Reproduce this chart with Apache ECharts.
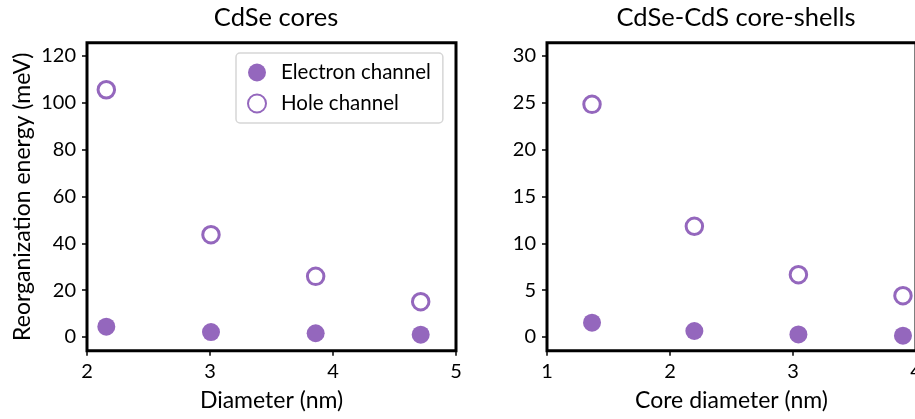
<!DOCTYPE html>
<html><head><meta charset="utf-8">
<script src="https://cdn.jsdelivr.net/npm/echarts@6/dist/echarts.min.js"></script>
<style>html,body{margin:0;padding:0;background:#fff}#c{width:915px;height:419px}</style>
</head><body><div id="c"></div>
<script>
const coresDiameter = [2.157, 3.008, 3.859, 4.713];
const coresElectron = [4.4, 2.1, 1.6, 1.0];
const coresHole = [105.6, 43.7, 25.9, 15.1];
const shellDiameter = [1.366, 2.198, 3.044, 3.894];
const shellElectron = [1.53, 0.64, 0.28, 0.14];
const shellHole = [24.84, 11.82, 6.65, 4.41];
const coresTicks = [0, 20, 40, 60, 80, 100, 120];
const shellTicks = [0, 5, 10, 15, 20, 25, 30];
const titles = ['CdSe cores', 'CdSe-CdS core-shells'];
const xNames = ['Diameter (nm)', 'Core diameter (nm)'];
const yName = 'Reorganization energy (meV)';
const seriesNames = ['Electron channel', 'Hole channel'];

const purple = '#9467bd';
const FONT = 'Lato';
const chart = echarts.init(document.getElementById('c'), null, {renderer: 'canvas'});
const pair = (xs, ys) => xs.map((x, i) => [x, ys[i]]);
const tick = {show: true, length: 5, lineStyle: {color: '#000', width: 1.5}};
const label = {color: '#000', fontFamily: FONT, fontSize: 20, margin: 11};
const nameStyle = {fontFamily: FONT, fontSize: 23, color: '#000'};
const base = {type: 'value', axisLine: {show: false, onZero: false}, splitLine: {show: false}};
const filled = {symbol: 'circle', symbolSize: 18, itemStyle: {color: purple, opacity: 1}};
const hollow = {symbol: 'circle', symbolSize: 16.5, itemStyle: {color: '#fff', borderColor: purple, borderWidth: 3, opacity: 1}};
const titleStyle = {fontFamily: FONT, fontSize: 25.5, fontWeight: 'normal', color: '#000'};

chart.setOption({
  animation: false,
  title: [
    {text: titles[0], left: 271, top: 0, textAlign: 'center', textStyle: titleStyle},
    {text: titles[1], left: 731, top: 0, textAlign: 'center', textStyle: titleStyle}
  ],
  grid: [
    {left: 87, top: 42.7, width: 369, height: 308, outerBoundsMode: 'none', containLabel: false, show: true, borderColor: '#000', borderWidth: 3, backgroundColor: 'transparent'},
    {left: 547, top: 42.7, width: 369, height: 308, outerBoundsMode: 'none', containLabel: false, show: true, borderColor: '#000', borderWidth: 3, backgroundColor: 'transparent'}
  ],
  xAxis: [
    Object.assign({}, base, {gridIndex: 0, min: 2, max: 5, interval: 1, axisTick: tick, axisLabel: label, name: xNames[0], nameLocation: 'middle', nameGap: 38, nameTextStyle: nameStyle}),
    Object.assign({}, base, {gridIndex: 1, min: 1, max: 4, interval: 1, axisTick: tick, axisLabel: label, name: xNames[1], nameLocation: 'middle', nameGap: 38, nameTextStyle: nameStyle})
  ],
  yAxis: [
    Object.assign({}, base, {gridIndex: 0, min: -5.85, max: 125.7,
      axisTick: Object.assign({}, tick, {customValues: coresTicks}),
      axisLabel: Object.assign({}, label, {customValues: coresTicks}),
      name: yName, nameLocation: 'middle', nameGap: 53, nameTextStyle: nameStyle}),
    Object.assign({}, base, {gridIndex: 1, min: -1.4625, max: 31.425,
      axisTick: Object.assign({}, tick, {customValues: shellTicks}),
      axisLabel: Object.assign({}, label, {customValues: shellTicks})})
  ],
  legend: {
    left: 236, top: 53, orient: 'vertical',
    data: [{name: seriesNames[0]}, {name: seriesNames[1]}],
    itemWidth: 18, itemHeight: 18, itemGap: 10,
    padding: [9, 12, 9, 11],
    backgroundColor: '#fff', borderColor: '#d6d6d6', borderWidth: 1.5, borderRadius: 4,
    textStyle: {fontFamily: FONT, fontSize: 20.5, color: '#000', padding: [0, 0, 0, 10]}
  },
  series: [
    Object.assign({type: 'scatter', name: seriesNames[0], xAxisIndex: 0, yAxisIndex: 0, data: pair(coresDiameter, coresElectron)}, filled),
    Object.assign({type: 'scatter', name: seriesNames[1], xAxisIndex: 0, yAxisIndex: 0, data: pair(coresDiameter, coresHole)}, hollow),
    Object.assign({type: 'scatter', name: seriesNames[0], xAxisIndex: 1, yAxisIndex: 1, data: pair(shellDiameter, shellElectron)}, filled),
    Object.assign({type: 'scatter', name: seriesNames[1], xAxisIndex: 1, yAxisIndex: 1, data: pair(shellDiameter, shellHole)}, hollow)
  ]
});
</script></body></html>
